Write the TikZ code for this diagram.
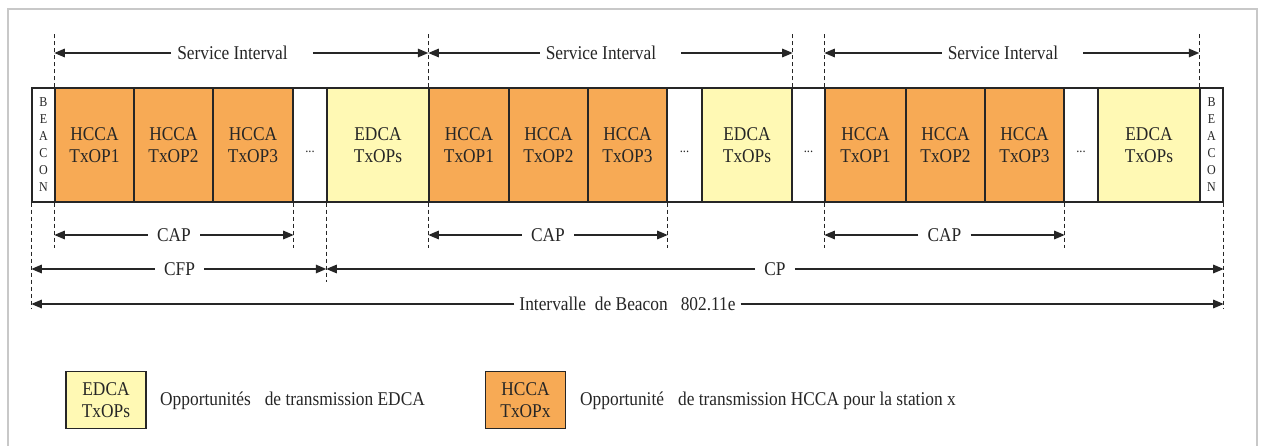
\documentclass[tikz,border=0pt]{standalone}
\usepackage{fontspec}
\setmainfont{Liberation Serif}[FakeStretch=0.89]
\usetikzlibrary{arrows.meta}
\definecolor{hccaorange}{RGB}{247,170,85}
\definecolor{edcayellow}{RGB}{255,249,180}
\definecolor{inkgray}{RGB}{38,38,38}
\definecolor{framegray}{RGB}{200,200,200}
\tikzset{
  slot/.style={draw=inkgray, line width=1.4pt, minimum height=114pt, inner sep=0pt, align=center, text=inkgray, font=\fontsize{19.5}{22}\selectfont},
  hcca/.style={slot, fill=hccaorange},
  edca/.style={slot, fill=edcayellow},
  blank/.style={slot, fill=white, font=\fontsize{14}{16}\selectfont},
  beacon/.style={slot, fill=white, font=\fontsize{13.5}{17}\selectfont},
  legendbox/.style={slot, line width=1.2pt, minimum width=80pt, minimum height=57pt},
  guide/.style={draw=inkgray, line width=1.1pt, dash pattern=on 4pt off 3pt},
  span/.style={draw=inkgray, line width=1.4pt, -{Triangle[length=10.5pt, width=8.5pt]}},
  spanlabel/.style={fill=white, inner ysep=2pt, inner xsep=9pt, text=inkgray, font=\fontsize{19.5}{22}\selectfont},
  legendtext/.style={anchor=west, inner sep=0pt, text=inkgray, font=\fontsize{19.5}{22}\selectfont}
}
\begin{document}
\begin{tikzpicture}[x=1pt, y=-1pt]
\useasboundingbox (0,0) rectangle (1263,446);
\draw[framegray, line width=1.2pt] (8,446) -- (8,9) -- (1257,9) -- (1257,446);
\node[beacon, minimum width=23pt] (B0) at (43.5,145) {B\\E\\A\\C\\O\\N};
\node[hcca, minimum width=79pt] (H1) at (94.5,145) {HCCA\\TxOP1};
\node[hcca, minimum width=79pt] (H2) at (173.5,145) {HCCA\\TxOP2};
\node[hcca, minimum width=80pt] (H3) at (253,145) {HCCA\\TxOP3};
\node[blank, minimum width=34pt] (D1) at (310,145) {\raisebox{-8pt}[0pt][0pt]{...}};
\node[edca, minimum width=102pt] (E1) at (378,145) {EDCA\\TxOPs};
\node[hcca, minimum width=80pt] (H4) at (469,145) {HCCA\\TxOP1};
\node[hcca, minimum width=79pt] (H5) at (548.5,145) {HCCA\\TxOP2};
\node[hcca, minimum width=79pt] (H6) at (627.5,145) {HCCA\\TxOP3};
\node[blank, minimum width=35pt] (D2) at (684.5,145) {\raisebox{-8pt}[0pt][0pt]{...}};
\node[edca, minimum width=90pt] (E2) at (747,145) {EDCA\\TxOPs};
\node[blank, minimum width=33pt] (D3) at (808.5,145) {\raisebox{-8pt}[0pt][0pt]{...}};
\node[hcca, minimum width=81pt] (H7) at (865.5,145) {HCCA\\TxOP1};
\node[hcca, minimum width=79pt] (H8) at (945.5,145) {HCCA\\TxOP2};
\node[hcca, minimum width=79pt] (H9) at (1024.5,145) {HCCA\\TxOP3};
\node[blank, minimum width=34pt] (D4) at (1081,145) {\raisebox{-8pt}[0pt][0pt]{...}};
\node[edca, minimum width=102pt] (E3) at (1149,145) {EDCA\\TxOPs};
\node[beacon, minimum width=23pt] (B1) at (1211.5,145) {B\\E\\A\\C\\O\\N};
\draw[guide] (H1.north west) -- (H1.north west |- 0,32);
\draw[guide] (H4.north west) -- (H4.north west |- 0,32);
\draw[guide] (E2.north east) -- (E2.north east |- 0,32);
\draw[guide] (H7.north west) -- (H7.north west |- 0,32);
\draw[guide] (B1.north west) -- (B1.north west |- 0,32);
\draw[guide] (H1.south west) -- (H1.south west |- 0,248);
\draw[guide] (H3.south east) -- (H3.south east |- 0,248);
\draw[guide] (H4.south west) -- (H4.south west |- 0,248);
\draw[guide] (H6.south east) -- (H6.south east |- 0,248);
\draw[guide] (H7.south west) -- (H7.south west |- 0,248);
\draw[guide] (H9.south east) -- (H9.south east |- 0,248);
\draw[guide] (E1.south west) -- (E1.south west |- 0,282);
\draw[guide] (B0.south west) -- (B0.south west |- 0,308);
\draw[guide] (B1.south east) -- (B1.south east |- 0,308);
\coordinate (S0) at (H1.north west |- 0,53);
\coordinate (S1) at (H4.north west |- 0,53);
\coordinate (S2) at (E2.north east |- 0,53);
\coordinate (S3) at (H7.north west |- 0,53);
\coordinate (S4) at (B1.north west |- 0,53);
\coordinate (C0) at (H1.south west |- 0,235);
\coordinate (C1) at (H3.south east |- 0,235);
\coordinate (C2) at (H4.south west |- 0,235);
\coordinate (C3) at (H6.south east |- 0,235);
\coordinate (C4) at (H7.south west |- 0,235);
\coordinate (C5) at (H9.south east |- 0,235);
\coordinate (P0) at (B0.south west |- 0,269);
\coordinate (P1) at (E1.south west |- 0,269);
\coordinate (P2) at (B1.south east |- 0,269);
\coordinate (I0) at (B0.south west |- 0,304);
\coordinate (I1) at (B1.south east |- 0,304);
\node[spanlabel, inner xsep=6pt] (L1) at (242,53) {Service Interval\kern19pt\relax};
\node[spanlabel, inner xsep=6pt] (L2) at (610.5,53) {Service Interval\kern19pt\relax};
\node[spanlabel, inner xsep=6pt] (L3) at (1012.5,53) {Service Interval\kern19pt\relax};
\node[spanlabel] (L4) at (174,235) {CAP};
\node[spanlabel] (L5) at (548,235) {CAP};
\node[spanlabel] (L6) at (944.5,235) {CAP};
\node[spanlabel] (L7) at (179.5,269) {CFP};
\node[spanlabel] (L8) at (775,269) {CP};
\node[spanlabel, inner xsep=5pt] (L9) at (627.5,304) {Intervalle\hspace{9pt}de Beacon\hspace{13pt}802.11e};
\draw[span] (L1.west) -- (S0);
\draw[span] (L1.east) -- (S1);
\draw[span] (L2.west) -- (S1);
\draw[span] (L2.east) -- (S2);
\draw[span] (L3.west) -- (S3);
\draw[span] (L3.east) -- (S4);
\draw[span] (L4.west) -- (C0);
\draw[span] (L4.east) -- (C1);
\draw[span] (L5.west) -- (C2);
\draw[span] (L5.east) -- (C3);
\draw[span] (L6.west) -- (C4);
\draw[span] (L6.east) -- (C5);
\draw[span] (L7.west) -- (P0);
\draw[span] (L7.east) -- (P1);
\draw[span] (L8.west) -- (P1);
\draw[span] (L8.east) -- (P2);
\draw[span] (L9.west) -- (I0);
\draw[span] (L9.east) -- (I1);
\node[legendbox, fill=edcayellow] (K1) at (106,400) {EDCA\\TxOPs};
\node[legendtext] (T1) at (160,401) {Opportunités\hspace{14pt}de transmission EDCA};
\node[legendbox, fill=hccaorange] (K2) at (525.5,400) {HCCA\\TxOPx};
\node[legendtext] (T2) at (580,401) {Opportunité\hspace{14pt}de transmission HCCA pour la station x};
\end{tikzpicture}
\end{document}
